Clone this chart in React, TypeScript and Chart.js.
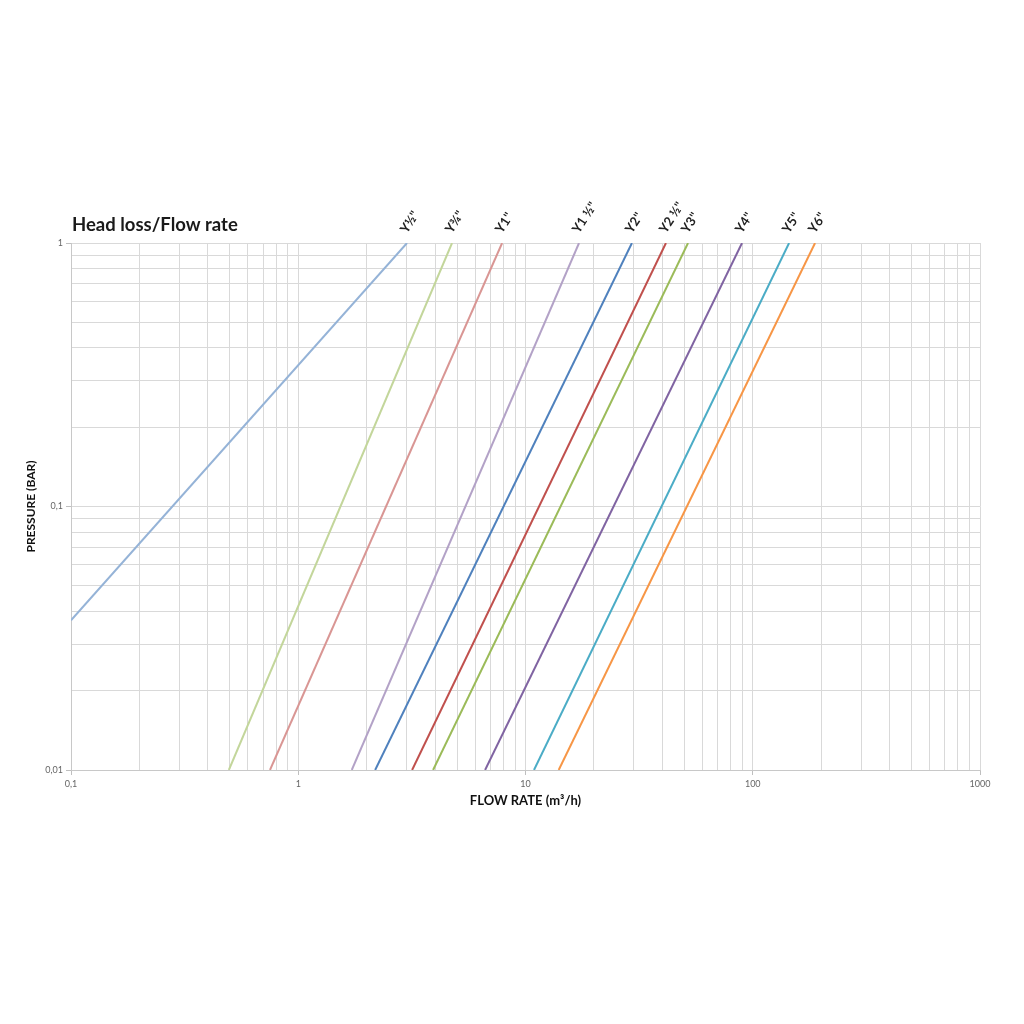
import React, { useEffect, useRef } from "react";
import { Chart, registerables } from "chart.js";

Chart.register(...registerables);

const seriesNames = ['Y½"', 'Y¾"', 'Y1"', 'Y1 ½"', 'Y2"', 'Y2 ½"', 'Y3"', 'Y4"', 'Y5"', 'Y6"'];
const seriesColors = ["#95B3D7", "#C3D69B", "#D99694", "#B3A2C7", "#4F81BD", "#C0504D", "#9BBB59", "#8064A2", "#4BACC6", "#F79646"];
const startFlow = [0.1, 0.495, 0.751, 1.72, 2.18, 3.17, 3.92, 6.64, 10.9, 14.0];
const startPressure = [0.037, 0.01, 0.01, 0.01, 0.01, 0.01, 0.01, 0.01, 0.01, 0.01];
const endFlow = [3.01, 4.75, 7.89, 17.2, 29.4, 41.5, 51.9, 89.7, 144.5, 188];
const endPressure = [1, 1, 1, 1, 1, 1, 1, 1, 1, 1];

const xTickValues = [0.1, 1, 10, 100, 1000];
const xTickLabels = ["0,1", "1", "10", "100", "1000"];
const yTickValues = [0.01, 0.1, 1];
const yTickLabels = ["0,01", "0,1", "1"];

const chartTitle = "Head loss/Flow rate";
const xTitle = "FLOW RATE (m³/h)";
const yTitle = "PRESSURE (BAR)";

function minorTicks(min: number, max: number) {
  const out: { value: number }[] = [];
  for (let d = min; d < max * 0.999; d *= 10) {
    for (let k = 1; k <= 9; k++) out.push({ value: d * k });
  }
  out.push({ value: max });
  return out;
}

function labelFor(values: number[], labels: string[], v: number) {
  for (let i = 0; i < values.length; i++) {
    if (Math.abs(v / values[i] - 1) < 1e-6) return labels[i];
  }
  return "";
}

const labelPlugin = {
  id: "lineLabels",
  afterDraw(chart: any) {
    const ctx = chart.ctx;
    const xs = chart.scales.x;
    const top = chart.chartArea.top;
    ctx.save();
    ctx.font = "bold 13px Lato, 'Open Sans', sans-serif";
    ctx.fillStyle = "#222222";
    ctx.textAlign = "left";
    ctx.textBaseline = "alphabetic";
    seriesNames.forEach((name, i) => {
      const px = xs.getPixelForValue(endFlow[i]);
      ctx.save();
      ctx.translate(px, top - 9);
      ctx.rotate(-57 * Math.PI / 180);
      ctx.fillText(name, 0, 0);
      ctx.restore();
    });
    ctx.font = "bold 18.5px Lato, 'Open Sans', sans-serif";
    ctx.fillStyle = "#1a1a1a";
    ctx.fillText(chartTitle, chart.chartArea.left + 1, top - 12);
    ctx.restore();
  },
};

export default function App() {
  const ref = useRef<HTMLCanvasElement | null>(null);
  useEffect(() => {
    if (!ref.current) return;
    const datasets = seriesNames.map((name, i) => ({
      label: name,
      data: [
        { x: startFlow[i], y: startPressure[i] },
        { x: endFlow[i], y: endPressure[i] },
      ],
      borderColor: seriesColors[i],
      backgroundColor: seriesColors[i],
      borderWidth: 2,
      pointRadius: 0,
      fill: false,
      tension: 0,
    }));
    const chart = new Chart(ref.current, {
      type: "line",
      data: { datasets },
      plugins: [labelPlugin],
      options: {
        animation: false,
        responsive: false,
        devicePixelRatio: 1,
        layout: { padding: { top: 243, left: 20, right: 44, bottom: 211 } },
        plugins: { legend: { display: false }, tooltip: { enabled: false }, title: { display: false } },
        scales: {
          x: {
            type: "logarithmic",
            min: 0.1,
            max: 1000,
            afterBuildTicks: (scale: any) => { scale.ticks = minorTicks(0.1, 1000); },
            afterFit: (scale: any) => { scale.height = 43; },
            ticks: {
              autoSkip: false,
              maxRotation: 0,
              padding: 4,
              color: "#666666",
              font: { size: 9, family: "Lato, 'Open Sans', sans-serif" },
              callback: (v: any) => labelFor(xTickValues, xTickLabels, Number(v)),
            },
            grid: {
              color: "#d9d9d9",
              lineWidth: 1,
              tickLength: 5,
              tickColor: (c: any) => (labelFor(xTickValues, xTickLabels, c.tick?.value) ? "#bfbfbf" : "rgba(0,0,0,0)"),
            },
            border: { color: "#c8c8c8" },
            title: {
              display: true,
              text: xTitle,
              color: "#111111",
              font: { size: 13, weight: "bold", family: "Lato, 'Open Sans', sans-serif" },
              padding: { top: 2, bottom: 4 },
            },
          },
          y: {
            type: "logarithmic",
            min: 0.01,
            max: 1,
            afterBuildTicks: (scale: any) => { scale.ticks = minorTicks(0.01, 1); },
            afterFit: (scale: any) => { scale.width = 51; },
            ticks: {
              autoSkip: false,
              padding: 3,
              color: "#666666",
              font: { size: 9, family: "Lato, 'Open Sans', sans-serif" },
              callback: (v: any) => labelFor(yTickValues, yTickLabels, Number(v)),
            },
            grid: {
              color: "#d9d9d9",
              lineWidth: 1,
              tickLength: 5,
              tickColor: (c: any) => (labelFor(yTickValues, yTickLabels, c.tick?.value) ? "#bfbfbf" : "rgba(0,0,0,0)"),
            },
            border: { color: "#c8c8c8" },
            title: {
              display: true,
              text: yTitle,
              color: "#111111",
              font: { size: 12, weight: "bold", family: "Lato, 'Open Sans', sans-serif" },
              padding: { top: 4, bottom: 4 },
            },
          },
        },
      } as any,
    });
    return () => chart.destroy();
  }, []);
  return (
    <div style={{ position: "absolute", left: 0, top: 0, width: 1024, height: 1024, background: "#ffffff" }}>
      <canvas ref={ref} width={1024} height={1024} style={{ width: 1024, height: 1024, display: "block" }} />
    </div>
  );
}
